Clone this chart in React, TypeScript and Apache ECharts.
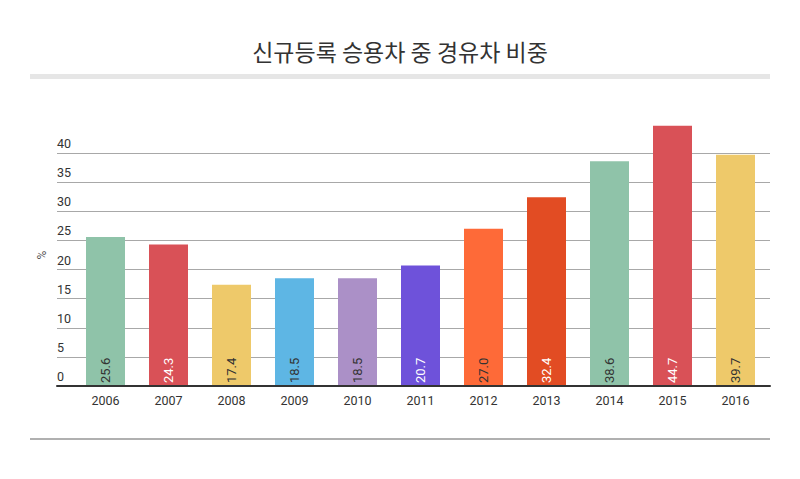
import React, { useEffect, useRef } from "react";
import * as echarts from "echarts";

const years = ["2006", "2007", "2008", "2009", "2010", "2011", "2012", "2013", "2014", "2015", "2016"];
const shares = [25.6, 24.3, 17.4, 18.5, 18.5, 20.7, 27.0, 32.4, 38.6, 44.7, 39.7];
const barColors = ["#8fc3a9", "#d95157", "#eec96a", "#5eb6e4", "#ab90c7", "#6e52da", "#fe6a38", "#e24c23", "#8fc3a9", "#d95157", "#eec96a"];
const labelColors = ["#333", "#fff", "#333", "#333", "#333", "#fff", "#333", "#fff", "#333", "#fff", "#333"];
const yTicks = [0, 5, 10, 15, 20, 25, 30, 35, 40, 45];
const title = "신규등록 승용차 중 경유차 비중";
const yName = "%";

export default function App() {
  const ref = useRef<HTMLDivElement>(null);
  useEffect(() => {
    if (!ref.current) return;
    const chart = echarts.init(ref.current, null, { renderer: "svg" });
    const font = "Roboto, 'Noto Sans', sans-serif";
    const gridColors = yTicks.map((_, i) => (i === yTicks.length - 1 ? "rgba(0,0,0,0)" : "#a8a8a8"));
    chart.setOption({
      animation: false,
      backgroundColor: "#fff",
      title: {
        text: title,
        left: "center",
        top: 34,
        textStyle: { fontFamily: "'Noto Sans CJK KR', sans-serif", fontSize: 23, fontWeight: "normal", color: "#333" },
      },
      graphic: [
        { type: "rect", shape: { x: 30, y: 74, width: 740, height: 5 }, style: { fill: "#e6e6e6" } },
        { type: "rect", shape: { x: 30, y: 438, width: 740, height: 2 }, style: { fill: "#b0b0b0" } },
      ],
      grid: [
        { left: 57, right: 30, top: 124, bottom: 93 },
        { left: 74, right: 33, top: 124, bottom: 93 },
      ],
      xAxis: [
        {
          type: "value",
          gridIndex: 0,
          min: 0,
          max: 1,
          axisLabel: { show: false },
          axisTick: { show: false },
          splitLine: { show: false },
          axisLine: { show: true, lineStyle: { color: "#333", width: 2 } },
          z: 5,
        },
        {
          type: "category",
          gridIndex: 1,
          data: years,
          axisLine: { show: false },
          axisTick: { show: false },
          axisLabel: { color: "#333", fontSize: 12.5, fontFamily: font, margin: 8 },
        },
      ],
      yAxis: [
        {
          type: "value",
          gridIndex: 0,
          min: 0,
          max: 45,
          interval: 5,
          name: yName,
          nameLocation: "middle",
          nameRotate: 90,
          nameGap: 9,
          nameMoveOverlap: false,
          nameTextStyle: { color: "#555", fontSize: 12, fontFamily: font },
          axisLine: { show: false },
          axisTick: { show: false },
          axisLabel: {
            inside: true,
            showMaxLabel: false,
            color: "#333",
            fontSize: 12.5,
            fontFamily: font,
            align: "left",
            verticalAlign: "bottom",
            margin: 0,
            padding: [0, 0, 3, 0],
          },
          splitLine: { show: true, lineStyle: { color: gridColors, width: 1 } },
        },
        {
          type: "value",
          gridIndex: 1,
          min: 0,
          max: 45,
          show: false,
          splitLine: { show: false },
        },
      ],
      series: [
        {
          type: "bar",
          xAxisIndex: 1,
          yAxisIndex: 1,
          barWidth: 39,
          z: 3,
          data: shares.map((v, i) => ({
            value: v,
            itemStyle: { color: barColors[i] },
            label: { color: labelColors[i] },
          })),
          label: {
            show: true,
            position: "insideBottom",
            rotate: 90,
            align: "left",
            verticalAlign: "middle",
            distance: 3,
            fontSize: 13,
            fontFamily: font,
            formatter: (p: any) => Number(p.value).toFixed(1),
          },
        },
      ],
    });
    return () => chart.dispose();
  }, []);
  return <div ref={ref} style={{ position: "fixed", left: 0, top: 0, width: 800, height: 479 }} />;
}
